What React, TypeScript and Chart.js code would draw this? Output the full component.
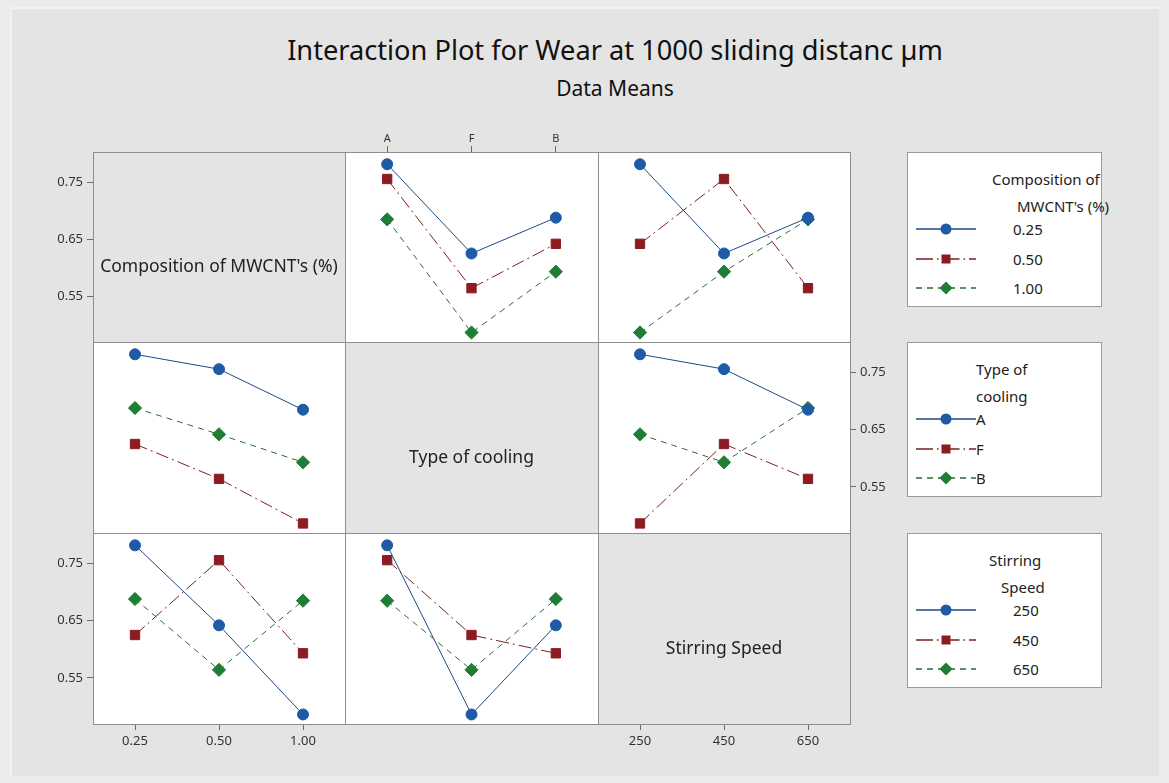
import React, { useEffect, useRef } from "react";
import { Chart, registerables } from "chart.js";

Chart.register(...registerables);

// ---- Factor levels ----
const compositionLevels = ["0.25", "0.50", "1.00"];
const coolingLevels = ["A", "F", "B"];
const speedLevels = ["250", "450", "650"];

// ---- L9 runs (one observation per run) ----
const runComposition = ["0.25", "0.25", "0.25", "0.50", "0.50", "0.50", "1.00", "1.00", "1.00"];
const runCooling = ["A", "F", "B", "A", "F", "B", "A", "F", "B"];
const runSpeed = ["250", "450", "650", "450", "650", "250", "650", "250", "450"];
const runWear = [0.782, 0.625, 0.688, 0.756, 0.564, 0.642, 0.685, 0.486, 0.593];

// ---- Axis ----
const yTicks = [0.55, 0.65, 0.75];
const Y_MIN = 0.4693;
const Y_MAX = 0.8035;

const factorNames = ["Composition of MWCNT's (%)", "Type of cooling", "Stirring Speed"];
const legendTitles = [
  ["Composition of", "MWCNT's (%)"],
  ["Type of", "cooling"],
  ["Stirring", "Speed"],
];

const factors = [
  { name: factorNames[0], levels: compositionLevels, runs: runComposition },
  { name: factorNames[1], levels: coolingLevels, runs: runCooling },
  { name: factorNames[2], levels: speedLevels, runs: runSpeed },
];

// mean wear for every (trace level, x level) pair
function cellMeans(xf: any, tf: any): number[][] {
  return tf.levels.map((t: string) =>
    xf.levels.map((xl: string) => {
      const vals = runWear.filter((_, i) => tf.runs[i] === t && xf.runs[i] === xl);
      return vals.reduce((a, b) => a + b, 0) / vals.length;
    })
  );
}

const FONT = '"Noto Sans", "Open Sans", sans-serif';

const seriesStyles = [
  { color: "#1f5aa6", line: "#1d4a86", dash: [] as number[], pointStyle: "circle", radius: 5.5 },
  { color: "#8c1c22", line: "#7a2026", dash: [13, 4, 2, 4], pointStyle: "rect", radius: 6.6 },
  { color: "#1f7d35", line: "#2b6b3a", dash: [6, 5], pointStyle: "rectRot", radius: 6.6 },
];

// grid geometry
const colEdges = [93, 345, 598, 850];
const rowEdges = [152, 342, 533, 724];
const AX_LEFT = 56;
const AX_RIGHT = 50;
const AX_TOP = 24;
const AX_BOTTOM = 34;

const framePlugin = {
  id: "cellFrame",
  beforeDraw(chart: any, _args: any, opts: any) {
    const { ctx, chartArea: a } = chart;
    if (opts.fill) {
      ctx.save();
      ctx.fillStyle = opts.fill;
      ctx.fillRect(a.left, a.top, a.right - a.left, a.bottom - a.top);
      ctx.restore();
    }
  },
  afterDraw(chart: any) {
    const { ctx, chartArea: a } = chart;
    ctx.save();
    ctx.strokeStyle = "#8e8e8e";
    ctx.lineWidth = 1;
    ctx.strokeRect(a.left + 0.5, a.top + 0.5, a.right - a.left, a.bottom - a.top);
    ctx.restore();
  },
};

function zeroPad(s: any) {
  s.paddingLeft = 0;
  s.paddingRight = 0;
  s.paddingTop = 0;
  s.paddingBottom = 0;
}

function Cell({ r, c }: { r: number; c: number }) {
  const ref = useRef<HTMLCanvasElement | null>(null);
  const isDiag = r === c;
  const showLeft = c === 0 && r !== 1;
  const showRight = c === 2 && r === 1;
  const showTop = r === 0 && c === 1;
  const showBottom = r === 2 && c !== 1;
  const L = showLeft ? AX_LEFT : 0;
  const R = showRight ? AX_RIGHT : 0;
  const T = showTop ? AX_TOP : 0;
  const B = showBottom ? AX_BOTTOM : 0;
  const cw = colEdges[c + 1] - colEdges[c];
  const ch = rowEdges[r + 1] - rowEdges[r];
  const width = L + cw + R + 1;
  const height = T + ch + B + 1;

  useEffect(() => {
    const xf = factors[c];
    const tf = factors[r];
    const datasets = isDiag
      ? []
      : cellMeans(xf, tf).map((vals, t) => {
          const st = seriesStyles[t];
          return {
            label: tf.levels[t],
            data: vals,
            borderColor: st.line,
            backgroundColor: st.color,
            borderWidth: 1,
            borderDash: st.dash,
            pointStyle: st.pointStyle,
            pointRadius: st.radius,
            pointHoverRadius: st.radius,
            pointBackgroundColor: st.color,
            pointBorderColor: st.color,
            pointBorderWidth: 1,
            tension: 0,
            clip: false,
          };
        });

    const tickFont = { family: FONT, size: 13 };
    const xVisible = showTop || showBottom;
    const yVisible = showLeft || showRight;
    const chart = new Chart(ref.current as HTMLCanvasElement, {
      type: "line",
      data: { labels: xf.levels, datasets: datasets as any },
      options: {
        responsive: false,
        maintainAspectRatio: false,
        animation: false,
        devicePixelRatio: 1,
        events: [],
        layout: { autoPadding: false, padding: { left: 0, top: 0, right: 1, bottom: 1 } },
        plugins: {
          legend: { display: false },
          tooltip: { enabled: false },
          cellFrame: { fill: isDiag ? null : "#ffffff" },
        } as any,
        scales: {
          x: {
            type: "category",
            labels: xf.levels,
            offset: true,
            position: showTop ? "top" : "bottom",
            display: xVisible,
            grid: {
              display: true,
              offset: false,
              drawOnChartArea: false,
              drawTicks: true,
              tickLength: 6,
              color: "#6a6a6a",
            },
            border: { display: false },
            ticks: {
              font: showTop ? { family: FONT, size: 11 } : tickFont,
              color: "#333333",
              padding: showTop ? 1 : 3,
              maxRotation: 0,
              autoSkip: false,
            },
            afterFit: (s: any) => {
              s.height = xVisible ? (showTop ? AX_TOP : AX_BOTTOM) : 0;
              zeroPad(s);
            },
          },
          y: {
            type: "linear",
            min: Y_MIN,
            max: Y_MAX,
            position: showRight ? "right" : "left",
            display: yVisible,
            afterBuildTicks: (s: any) => {
              s.ticks = yTicks.map((v) => ({ value: v }));
            },
            grid: {
              display: true,
              drawOnChartArea: false,
              drawTicks: true,
              tickLength: 6,
              color: "#6a6a6a",
            },
            border: { display: false },
            ticks: {
              font: tickFont,
              color: "#333333",
              padding: 4,
              callback: (v: any) => Number(v).toFixed(2),
            },
            afterFit: (s: any) => {
              s.width = yVisible ? (showRight ? AX_RIGHT : AX_LEFT) : 0;
              zeroPad(s);
            },
          },
        },
      } as any,
      plugins: [framePlugin],
    });
    return () => chart.destroy();
  }, [r, c]);

  return (
    <canvas
      ref={ref}
      width={width}
      height={height}
      style={{
        position: "absolute",
        left: colEdges[c] - L,
        top: rowEdges[r] - T,
        width,
        height,
      }}
    />
  );
}

function DiagLabel({ i }: { i: number }) {
  const cx = (colEdges[i] + colEdges[i + 1]) / 2;
  const cy = (rowEdges[i] + rowEdges[i + 1]) / 2 + 18;
  return (
    <div
      style={{
        position: "absolute",
        left: cx - 150,
        width: 300,
        top: cy - 12,
        height: 24,
        lineHeight: "24px",
        textAlign: "center",
        fontFamily: FONT,
        fontSize: 17.5,
        color: "#222",
        whiteSpace: "nowrap",
      }}
    >
      {factors[i].name}
    </div>
  );
}

function Marker({ t }: { t: number }) {
  const st = seriesStyles[t];
  const y = 8;
  let shape: any;
  if (st.pointStyle === "circle") shape = <circle cx={30} cy={y} r={5.5} fill={st.color} />;
  else if (st.pointStyle === "rect") shape = <rect x={25.5} y={y - 4.5} width={9} height={9} fill={st.color} />;
  else shape = <polygon points={`30,${y - 6.5} 36.5,${y} 30,${y + 6.5} 23.5,${y}`} fill={st.color} />;
  return (
    <svg width={62} height={16} style={{ position: "absolute", left: 8, top: -8 }}>
      <line
        x1={0}
        y1={y}
        x2={60}
        y2={y}
        stroke={st.line}
        strokeWidth={1.3}
        strokeDasharray={st.dash.length ? (t === 1 ? "17 4 1.5 4" : "6 5") : undefined}
      />
      {shape}
    </svg>
  );
}

const legendTextLeft = [
  { t1: 84, t2: 109, items: 105 },
  { t1: 68, t2: 68, items: 68 },
  { t1: 81, t2: 93, items: 105 },
];

function LegendBox({ i }: { i: number }) {
  const top = rowEdges[i];
  const pos = legendTextLeft[i];
  const text = (s: string, left: number, y: number) => (
    <div
      style={{
        position: "absolute",
        left,
        top: y - 11,
        height: 22,
        lineHeight: "22px",
        fontFamily: FONT,
        fontSize: 15,
        color: "#222",
        whiteSpace: "nowrap",
      }}
    >
      {s}
    </div>
  );
  const itemY = [76, 106, 135];
  return (
    <div
      style={{
        position: "absolute",
        left: 907,
        top,
        width: 195,
        height: 155,
        background: "#ffffff",
        border: "1px solid #9a9a9a",
        boxSizing: "border-box",
      }}
    >
      {text(legendTitles[i][0], pos.t1, 26)}
      {text(legendTitles[i][1], pos.t2, 53)}
      {factors[i].levels.map((lv, t) => (
        <div key={lv} style={{ position: "absolute", left: 0, top: itemY[t], width: 195, height: 0 }}>
          <Marker t={t} />
          {text(lv, pos.items, 0)}
        </div>
      ))}
    </div>
  );
}

export default function App() {
  const cells: [number, number][] = [];
  for (let r = 0; r < 3; r++) for (let c = 0; c < 3; c++) cells.push([r, c]);
  return (
    <div
      style={{
        position: "absolute",
        left: 0,
        top: 0,
        width: 1169,
        height: 783,
        overflow: "hidden",
        background: "#ebebeb",
      }}
    >
      <div
        style={{
          position: "absolute",
          left: 10,
          top: 7,
          width: 1149,
          height: 769,
          background: "#e4e4e4",
          borderLeft: "2px solid #f2f2f2",
          borderTop: "2px solid #f2f2f2",
          boxSizing: "border-box",
        }}
      />
      <div
        style={{
          position: "absolute",
          left: 215,
          width: 800,
          top: 32,
          textAlign: "center",
          fontFamily: FONT,
          fontSize: 27.2,
          lineHeight: "36px",
          color: "#111",
          whiteSpace: "nowrap",
        }}
      >
        Interaction Plot for Wear at 1000 sliding distanc µm
      </div>
      <div
        style={{
          position: "absolute",
          left: 415,
          width: 400,
          top: 74,
          textAlign: "center",
          fontFamily: FONT,
          fontSize: 21,
          lineHeight: "28px",
          color: "#111",
          whiteSpace: "nowrap",
        }}
      >
        Data Means
      </div>
      {cells.map(([r, c]) => (
        <Cell key={`${r}-${c}`} r={r} c={c} />
      ))}
      {[0, 1, 2].map((i) => (
        <DiagLabel key={i} i={i} />
      ))}
      {[0, 1, 2].map((i) => (
        <LegendBox key={`lg${i}`} i={i} />
      ))}
    </div>
  );
}
